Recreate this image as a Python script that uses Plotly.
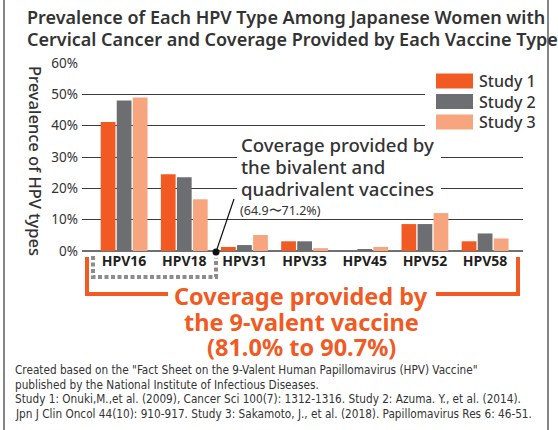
import plotly.graph_objects as go

# ---------------- data ----------------
categories = ["HPV16", "HPV18", "HPV31", "HPV33", "HPV45", "HPV52", "HPV58"]
study1 = [41.2, 24.5, 1.3, 3.1, 0.0, 8.6, 3.1]
study2 = [48.0, 23.5, 1.9, 3.1, 0.5, 8.6, 5.6]
study3 = [49.0, 16.5, 5.1, 0.9, 1.3, 12.1, 4.0]
series_names = ["Study 1", "Study 2", "Study 3"]
series_colors = ["#f15a22", "#6d6e71", "#f6a57f"]
y_tick_values = [0, 10, 20, 30, 40, 50, 60]
y_tick_labels = ["0%", "10%", "20%", "30%", "40%", "50%", "60%"]

title_lines = ["Prevalence of Each HPV Type Among Japanese Women with",
               "Cervical Cancer and Coverage Provided by Each Vaccine Type"]
y_title = "Prevalence of HPV types"
bivalent_lines = ["Coverage provided by", "the bivalent and", "quadrivalent vaccines"]
bivalent_range = "(64.9〜71.2%)"
ninevalent_lines = ["Coverage provided by", "the 9-valent vaccine", "(81.0% to 90.7%)"]
footnote_lines = [
    'Created based on the "Fact Sheet on the 9-Valent Human Papillomavirus (HPV) Vaccine"',
    "published by the National Institute of Infectious Diseases.",
    "Study 1: Onuki,M.,et al. (2009), Cancer Sci 100(7): 1312-1316. Study 2: Azuma. Y., et al. (2014).",
    "Jpn J Clin Oncol 44(10): 910-917. Study 3: Sakamoto, J., et al. (2018). Papillomavirus Res 6: 46-51.",
]

# ---------------- geometry helpers (pixel -> paper) ----------------
W, H = 558, 430
L, R, T, B = 82, 523, 63, 251


def px(x):
    return (x - L) / (R - L)


def py(y):
    return (B - y) / (B - T)


DARK = "#333333"
ORANGE = series_colors[0]
FONT = "Noto Sans"

fig = go.Figure()
for name, vals, col in zip(series_names, [study1, study2, study3], series_colors):
    fig.add_trace(go.Bar(x=categories, y=vals, name=name, marker_color=col,
                         marker_line_width=0, showlegend=False))

shapes = []
annotations = []

# white masks that interrupt gridlines behind text / legend
shapes.append(dict(type="rect", xref="paper", yref="paper", x0=px(237), x1=px(441),
                   y0=py(200), y1=py(132), fillcolor="white", line_width=0, layer="above"))
shapes.append(dict(type="rect", xref="paper", yref="paper", x0=px(425), x1=px(530),
                   y0=py(136), y1=py(70), fillcolor="white", line_width=0, layer="above"))

# custom legend
for i, (name, col) in enumerate(zip(series_names, series_colors)):
    cy = 81 + i * 20.5
    shapes.append(dict(type="rect", xref="paper", yref="paper", x0=px(436), x1=px(473),
                       y0=py(cy + 7.5), y1=py(cy - 7.5), fillcolor=col, line_width=0, layer="above"))
    annotations.append(dict(text=name, xref="paper", yref="paper", x=px(477), y=py(cy),
                            xanchor="left", yanchor="middle", showarrow=False,
                            font=dict(family=FONT, size=16, color=DARK, weight=500)))

# title
for i, line in enumerate(title_lines):
    annotations.append(dict(text=line, xref="paper", yref="paper", x=px(25), y=py(17 + 21.5 * i),
                            xanchor="left", yanchor="middle", showarrow=False,
                            font=dict(family=FONT, size=18, color=DARK, weight=600)))

# y axis title (rotated clockwise)
annotations.append(dict(text=y_title, xref="paper", yref="paper", x=px(36), y=py(161),
                        xanchor="center", yanchor="middle", showarrow=False, textangle=90,
                        font=dict(family=FONT, size=16.5, color=DARK, weight=500)))

# bivalent / quadrivalent annotation
for i, line in enumerate(bivalent_lines):
    annotations.append(dict(text=line, xref="paper", yref="paper", x=px(239), y=py(144 + 22 * i),
                            xanchor="left", yanchor="middle", showarrow=False,
                            font=dict(family=FONT, size=18.6, color=DARK, weight=500)))
annotations.append(dict(text=bivalent_range, xref="paper", yref="paper", x=px(238), y=py(210),
                        xanchor="left", yanchor="middle", showarrow=False,
                        font=dict(family=FONT, size=12.5, color=DARK)))
# pointer line + dot
shapes.append(dict(type="line", xref="paper", yref="paper", x0=px(216), y0=py(252),
                   x1=px(234), y1=py(199), line=dict(color="#111111", width=1.2), layer="above"))
shapes.append(dict(type="circle", xref="paper", yref="paper", x0=px(212.5), x1=px(219.5),
                   y0=py(255.5), y1=py(248.5), fillcolor="#111111", line_width=0, layer="above"))

# gray dashed bracket (bivalent coverage)
shapes.append(dict(type="path", xref="paper", yref="paper",
                   path=f"M {px(93)} {py(256)} L {px(93)} {py(277)} L {px(216)} {py(277)} L {px(216)} {py(258)}",
                   line=dict(color="#8c8c8c", width=4, dash="4px,2.5px"), layer="above"))

# orange bracket (9-valent coverage)
shapes.append(dict(type="path", xref="paper", yref="paper",
                   path=f"M {px(168)} {py(294)} L {px(87)} {py(294)} L {px(87)} {py(257)}",
                   line=dict(color=ORANGE, width=4), layer="above"))
shapes.append(dict(type="path", xref="paper", yref="paper",
                   path=f"M {px(436)} {py(294)} L {px(518)} {py(294)} L {px(518)} {py(257)}",
                   line=dict(color=ORANGE, width=4), layer="above"))
for i, line in enumerate(ninevalent_lines):
    annotations.append(dict(text=line, xref="paper", yref="paper", x=px(301), y=py(296 + 25.5 * i),
                            xanchor="center", yanchor="middle", showarrow=False,
                            font=dict(family=FONT, size=23.5, color=ORANGE, weight=700)))

# footnote
for i, line in enumerate(footnote_lines):
    annotations.append(dict(text=line, xref="paper", yref="paper", x=px(13), y=py(370 + 14.6 * i),
                            xanchor="left", yanchor="middle", showarrow=False,
                            font=dict(family="Liberation Sans Narrow, DejaVu Sans Condensed", size=11.7,
                                      color=DARK)))

# frame lines left/right
for xx in (4, 548):
    shapes.append(dict(type="line", xref="paper", yref="paper", x0=px(xx), x1=px(xx),
                       y0=py(0), y1=py(H), line=dict(color="#444444", width=1.3), layer="above"))

fig.update_layout(
    width=W, height=H,
    margin=dict(l=L, r=W - R, t=T, b=H - B, pad=0),
    paper_bgcolor="white", plot_bgcolor="white",
    barmode="group", bargap=0.2, bargroupgap=0.08,
    showlegend=False,
    shapes=shapes, annotations=annotations,
    xaxis=dict(range=[-0.7, 6.63], showgrid=False, showline=False, zeroline=False, ticks="",
               tickfont=dict(family=FONT, size=14, color="#231f20", weight=700)),
    yaxis=dict(range=[0, 60], tickmode="array", tickvals=y_tick_values, ticktext=y_tick_labels,
               showgrid=True, gridcolor="#3a3a3a", gridwidth=1, zeroline=True, zerolinecolor="#707070",
               zerolinewidth=1.6, showline=False, ticks="", ticklabelstandoff=3,
               tickfont=dict(family=FONT, size=13.5, color=DARK)),
)

fig.write_html("out.html", config={"displayModeBar": False},
               post_script="document.body.style.margin='0';document.body.style.overflow='hidden';")
